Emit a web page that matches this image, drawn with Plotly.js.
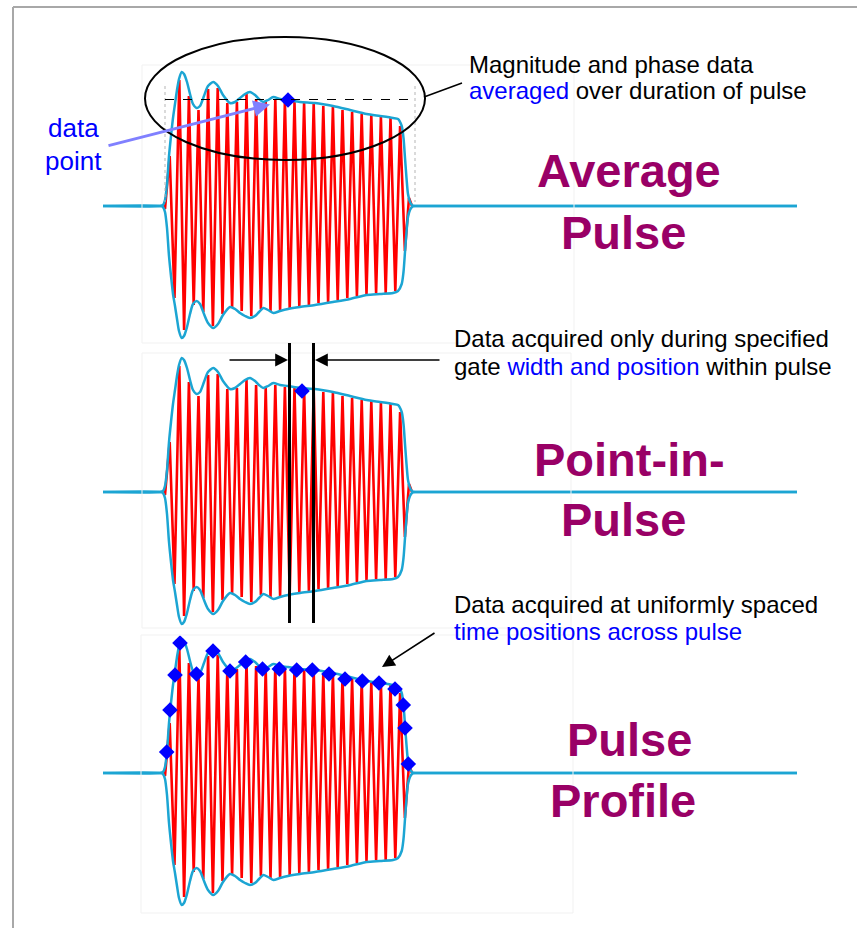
<!DOCTYPE html>
<html>
<head>
<meta charset="utf-8">
<script src="https://cdn.plot.ly/plotly-3.0.1.min.js"></script>
<style>html,body{margin:0;padding:0;background:#fff;}#chart{width:857px;height:928px;}</style>
</head>
<body>
<div id="chart"></div>
<script>
// ---- Data (time in display units, amplitude relative to baseline) ----
const envT  = [103,160,163,165,167,169,171,173,175,177,179,181.7,184,187,190,193,196.7,200,204,208,213.3,218,223,230,235,240,245,250,255,259,263.3,268,273.3,280,288,300,315,333,350,366.7,380,393,398,401.7,403.5,405,406.5,408,410,412,415,420,797];
const envUp = [0,0,1,6,22,50,70,88,102,116,127,134,132,124,112,102,98,100,110,120,124,120,111,103,104,108,112,114,111,107,104,106,109,107,106,104,103,100,96,92,90,88,87,80,68,48,28,12,4,1,0,0,0];
const envLo = [0,0,-1,-6,-22,-50,-70,-88,-100,-113,-125,-132,-130,-121,-108,-98,-95,-98,-108,-117,-122,-118,-109,-101,-103,-107,-110,-112,-110,-106,-102,-104,-107,-105,-103,-101,-99,-96,-93,-89,-88,-87,-85,-78,-66,-46,-26,-11,-4,-1,0,0,0];

const carrierT = [163,165,169.7,174.5,179.3,184.1,188.9,193.7,198.5,203.3,208.1,212.9,217.7,222.5,227.3,232.1,236.9,241.7,246.5,251.3,256.1,260.9,265.7,270.5,275.3,280.1,284.9,289.7,294.5,299.3,304.1,308.9,313.7,318.5,323.3,328.1,332.9,337.7,342.5,347.3,352.1,356.9,361.7,366.5,371.3,376.1,380.9,385.7,390.5,395.3,400.1,404.9,409,412];
const carrierA = [0,-3,50,-92,126,-124,110,-99,96,-106,117,-120,118,-108,103,-101,104,-105,112,-110,107,-103,104,-105,107,-104,105,-102,104,-100,103,-99,102,-97,100,-96,99,-94,96,-92,94,-90,92,-88,91,-87,89,-87,88,-85,80,-45,8,0];

const avgT = [288],  avgA = [106];
const pipT = [302],  pipA = [101];
const profT = [166.7,170,175,180,196.5,213,230,245.7,262.5,279.3,296.7,312.3,329,345,362.3,379,395,403.3,405,408.3];
const profA = [21,63,98,130,99,122,102,111,104,104,103,103,99,94,92,90,84,68,45,9];

const panelTitles = [["Average","Pulse"],["Point-in-","Pulse"],["Pulse","Profile"]];

// ---- Styling ----
const W = 857, H = 928;
const RED = '#ff0000', CYAN = '#1ca5d3', BLUE = '#0000ff', PURPLE = '#990066';
const P = x => x / W, Q = y => 1 - y / H;
const baselinesPx = [206, 492, 773];
const axes = ['y','y2','y3'];

const traces = [];
const diamondSets = [[avgT,avgA,12],[pipT,pipA,12],[profT,profA,12]];
axes.forEach((ax, i) => {
  traces.push({x: carrierT, y: carrierA, yaxis: ax, mode: 'lines', line: {color: RED, width: 2.6}, hoverinfo: 'skip'});
  traces.push({x: envT, y: envUp, yaxis: ax, mode: 'lines', line: {color: CYAN, width: 2.5, shape: 'spline', smoothing: 0.7}, hoverinfo: 'skip'});
  traces.push({x: envT, y: envLo, yaxis: ax, mode: 'lines', line: {color: CYAN, width: 2.5, shape: 'spline', smoothing: 0.7}, hoverinfo: 'skip'});
  const d = diamondSets[i];
  traces.push({x: d[0], y: d[1], yaxis: ax, mode: 'markers', marker: {symbol: 'diamond', size: d[2], color: BLUE, line: {width: 0}}, hoverinfo: 'skip'});
});

const yax = b => ({range: [b - H, b], visible: false, fixedrange: true});

const shapes = [
  // slide frame
  {type:'line', xref:'paper', yref:'paper', x0:P(13), y0:Q(7), x1:P(857), y1:Q(7), line:{color:'#a8a8a8', width:2}},
  {type:'line', xref:'paper', yref:'paper', x0:P(13), y0:Q(7), x1:P(13), y1:Q(928), line:{color:'#a8a8a8', width:2}},
  // faint panel frames
  {type:'rect', xref:'paper', yref:'paper', x0:P(142), y0:Q(65), x1:P(574), y1:Q(343), line:{color:'#f1f1f1', width:1}},
  {type:'rect', xref:'paper', yref:'paper', x0:P(142), y0:Q(353), x1:P(571), y1:Q(628), line:{color:'#f1f1f1', width:1}},
  {type:'rect', xref:'paper', yref:'paper', x0:P(141), y0:Q(635), x1:P(573), y1:Q(913), line:{color:'#f1f1f1', width:1}},
  // panel 1 averaging window
  {type:'line', xref:'paper', yref:'paper', x0:P(165), y0:Q(86), x1:P(165), y1:Q(202), line:{color:'#b5b5b5', width:1, dash:'dot'}},
  {type:'line', xref:'paper', yref:'paper', x0:P(415), y0:Q(86), x1:P(415), y1:Q(202), line:{color:'#b5b5b5', width:1, dash:'dot'}},
  {type:'line', xref:'paper', yref:'paper', x0:P(165), y0:Q(99.5), x1:P(415), y1:Q(99.5), line:{color:'#000', width:1, dash:'dash'}},
  {type:'circle', xref:'paper', yref:'paper', x0:P(145), y0:Q(37), x1:P(425), y1:Q(160), line:{color:'#000', width:2}},
  {type:'line', xref:'paper', yref:'paper', x0:P(424), y0:Q(97), x1:P(462), y1:Q(83), line:{color:'#000', width:1.5}},
  // panel 2 gate
  {type:'line', xref:'paper', yref:'paper', x0:P(289.5), y0:Q(343), x1:P(289.5), y1:Q(623), line:{color:'#000', width:3}},
  {type:'line', xref:'paper', yref:'paper', x0:P(313.5), y0:Q(343), x1:P(313.5), y1:Q(623), line:{color:'#000', width:3}}
];

const FONT = 'Liberation Sans, Arial, sans-serif';
function txt(x, y, text, size, color, anchor, bold) {
  return {xref:'paper', yref:'paper', x:P(x), y:Q(y), text:text, showarrow:false,
          xanchor:anchor, yanchor:'middle', align:anchor==='left'?'left':'center',
          font:{family:FONT, size:size, color:color, weight: bold ? 700 : 400}};
}
const b = s => '<span style="color:' + BLUE + '">' + s + '</span>';

const annotations = [
  txt(73, 127.7, 'data', 26, BLUE, 'center'),
  txt(73, 161, 'point', 26, BLUE, 'center'),
  txt(467, 64.3, 'Magnitude and phase data', 24, '#000', 'left'),
  txt(467, 90.8, b('averaged') + ' over duration of pulse', 24, '#000', 'left'),
  txt(452, 338.7, 'Data acquired only during specified', 24, '#000', 'left'),
  txt(452, 366, 'gate ' + b('width and position') + ' within pulse', 24, '#000', 'left'),
  txt(452, 604.3, 'Data acquired at uniformly spaced', 24, '#000', 'left'),
  txt(452, 631.3, b('time positions across pulse'), 24, '#000', 'left'),
  // big purple titles
  txt(628.5, 170.8, panelTitles[0][0], 47, PURPLE, 'center', true),
  txt(623, 232.4, panelTitles[0][1], 47, PURPLE, 'center', true),
  txt(629.5, 459, panelTitles[1][0], 47, PURPLE, 'center', true),
  txt(623.3, 519, panelTitles[1][1], 47, PURPLE, 'center', true),
  txt(629, 739, panelTitles[2][0], 47, PURPLE, 'center', true),
  txt(623, 800.7, panelTitles[2][1], 47, PURPLE, 'center', true),
  // arrows
  {xref:'paper', yref:'paper', x:P(270), y:Q(104.5), ax:107-270, ay:146-104.5, axref:'pixel', ayref:'pixel', text:'', showarrow:true,
   arrowhead:2, arrowsize:1.1, arrowwidth:3, arrowcolor:'#8080ff', standoff:0},
  {xref:'paper', yref:'paper', x:P(288), y:Q(360), ax:228-288, ay:0, text:'', showarrow:true,
   arrowhead:2, arrowsize:1.6, arrowwidth:1.6, arrowcolor:'#000', standoff:0},
  {xref:'paper', yref:'paper', x:P(315), y:Q(360), ax:441-315, ay:0, text:'', showarrow:true,
   arrowhead:2, arrowsize:1.6, arrowwidth:1.6, arrowcolor:'#000', standoff:0},
  {xref:'paper', yref:'paper', x:P(382), y:Q(667), ax:436-382, ay:632-667, text:'', showarrow:true,
   arrowhead:2, arrowsize:1.6, arrowwidth:1.6, arrowcolor:'#000', standoff:0}
];

const layout = {
  width: W, height: H, margin: {l:0, r:0, t:0, b:0, pad:0},
  paper_bgcolor: '#fff', plot_bgcolor: '#fff', showlegend: false,
  xaxis: {range: [0, W], visible: false, fixedrange: true},
  yaxis: yax(baselinesPx[0]),
  yaxis2: Object.assign(yax(baselinesPx[1]), {overlaying: 'y'}),
  yaxis3: Object.assign(yax(baselinesPx[2]), {overlaying: 'y'}),
  shapes: shapes, annotations: annotations
};

Plotly.newPlot('chart', traces, layout, {displayModeBar: false, staticPlot: true});
</script>
</body>
</html>
